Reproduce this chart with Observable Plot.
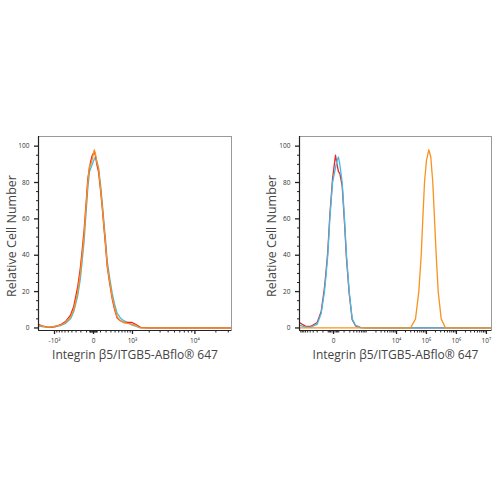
<!DOCTYPE html>
<html>
<head>
<meta charset="utf-8">
<script src="https://cdn.jsdelivr.net/npm/d3@7"></script>
<script src="https://cdn.jsdelivr.net/npm/@observablehq/plot@0.6"></script>
<style>
  html, body { margin: 0; padding: 0; background: #fff; }
  #root { position: relative; width: 500px; height: 500px; background: #fff; font-family: "Open Sans", sans-serif; }
  .panel { position: absolute; top: 120px; }
  .ytitle { position: absolute; top: 236px; transform: translate(-50%, -50%) rotate(-90deg); white-space: nowrap; font-size: 12.5px; color: #444; line-height: 1; }
</style>
</head>
<body>
<div id="root">
  <div class="panel" id="left" style="left:0px"></div>
  <div class="panel" id="right" style="left:250px"></div>
  <div class="ytitle" id="ytl" style="left:12px"></div>
  <div class="ytitle" id="ytr" style="left:272px"></div>
</div>
<script>
// ---------- data ----------
const xTitle = "Integrin β5/ITGB5-ABflo® 647";
const yTitle = "Relative Cell Number";
const seriesNames = ["red", "cyan", "orange"];
const seriesColors = ["#e8282b", "#3dbde8", "#f7931e"];

// Left panel (negative control overlay)
const leftX = [-1941,-1700,-1400,-1190,-950,-754,-584,-438,-353,-262,-210,-175,-140,-122,-100,-80,-55,-35,-15,10,25,45,70,101,130,157,190,221,270,330,390,456,550,658,800,986,1150,1410,2000,5000,15000,33000];
const leftRedY = [2,1.2,0.6,0.4,0.8,1.8,3.5,7,12,23,33,43,54,62,72,82,88,92,95,97,95,90,86,76,66,56,45,34,25,16,10,5.5,4,3,3,3,2,0.3,0,0,0,0];
const leftCyanY = [1,0.8,0.4,0.3,0.8,1.3,2.5,5,9,18,27,37,48,57,67,77,86,88,90,93,94,92,88,79,69,59,48,37,28,19,13,8,5.5,4,3,1.5,1,0,0,0,0,0];
const leftOrangeY = [1.5,1,0.5,0.5,1,1.5,3,6,10,20,30,40,51,60,70,80,89,90,93,98,96,91,88,77,67,57,46,35,26,17,11,6,4,3,2.5,2,1.5,0,0,0,0,0];

// Right panel
const rightX = [-1007,-800,-606,-387,-200,-126,-80,-60,-44,-26,-6,13,25,37,50,76,106,137,187,256,353,555,853,1500,10000,100000,1000000,14700000];
const rightRedY = [3,2,1,0.8,3,9,22,32,42,62,82,95,90,86,85,78,58,38,19,4.5,1.2,0.2,0,0,0,0,0,0];
const rightCyanY = [1.5,1,0.5,0.5,2,8,20,30,40,60,80,88,92,94,90,80,60,40,20,5,1.5,0.3,0,0,0,0,0,0];
const rightOrangeX = [-1007,0,10000,29400,43200,55700,67000,75800,86300,100000,120000,140000,163000,186000,212000,247000,311000,433000,1000000,14700000];
const rightOrangeY = [0,0,0,0,5,20,40,60,80,92,98,94,80,60,40,20,5,0,0,0];

// Axis ticks
const yMajor = [0, 20, 40, 60, 80, 100];
const yMinor = [5,10,15,25,30,35,45,50,55,65,70,75,85,90,95];
const leftMajor = [-1000, 0, 1000, 10000];
const leftMajorLabels = ["-10³", "0", "10³", "10⁴"];
const leftMinor = [-900,-800,-700,-600,-500,-400,-300,-200,-100,-50,-40,-30,-20,-10,10,20,30,40,50,100,200,300,400,500,600,700,800,900,2000,3000,4000,5000,6000,7000,8000,9000,20000,30000];
const rightMajor = [0, 10000, 100000, 1000000, 10000000];
const rightMajorLabels = ["0", "10⁴", "10⁵", "10⁶", "10⁷"];
const rightMinor = [-900,-800,-700,-600,-500,-400,-300,-200,-100,-40,-30,-20,-10,10,20,30,40,100,200,300,400,500,600,700,800,900,2000,3000,4000,5000,6000,7000,8000,9000,20000,30000,40000,50000,60000,70000,80000,90000,200000,300000,400000,500000,600000,700000,800000,900000,2000000,3000000,4000000,5000000,6000000,7000000,8000000,9000000];

// ---------- build ----------
function rows(xs, ys, s) { return xs.map((x, i) => ({x, y: ys[i], s})); }

function panel({series, xDomain, constant, major, majorLabels, minor, marginLeft, marginRight}) {
  const width = 250;
  const yDomain = [-1.4, 105.3];
  const fmt = v => majorLabels[major.indexOf(v)] ?? "";
  const marks = [
    Plot.frame({stroke: "#9a9a9a", strokeWidth: 1}),
    ...series.map(d => Plot.line(d, {x: "x", y: "y", stroke: seriesColors[seriesNames.indexOf(d[0].s)], strokeWidth: 1.3, clip: true})),
    Plot.ruleX([xDomain[0]], {stroke: "#222", strokeWidth: 1.2}),
    Plot.ruleY([yDomain[0]], {stroke: "#222", strokeWidth: 1.2}),
    Plot.axisY({ticks: yMajor, tickSize: 4, tickPadding: 5, fontSize: 6.5, tickFormat: d => String(d), label: null, stroke: "#222", strokeWidth: 1.3, fill: "#333"}),
    Plot.axisY({ticks: yMinor, tickSize: 2, fill: "none", label: null, stroke: "#222"}),
    Plot.axisX({ticks: major, tickSize: 4, tickPadding: 4, fontSize: 6.5, tickFormat: fmt, label: null, stroke: "#222", strokeWidth: 1.3, fill: "#333"}),
    Plot.axisX({ticks: minor, tickSize: 2.5, fill: "none", label: null, stroke: "#222"}),
    Plot.text([xTitle], {frameAnchor: "bottom", textAnchor: "middle", dy: 28, fontSize: 12, fill: "#444"})
  ];
  return Plot.plot({
    width,
    height: 260,
    marginTop: 16,
    marginBottom: 50,
    marginLeft,
    marginRight,
    style: {fontFamily: "Open Sans, sans-serif", background: "transparent", overflow: "visible"},
    x: {type: "symlog", constant, domain: xDomain, label: null},
    y: {domain: yDomain, label: null},
    marks
  });
}

const leftPlot = panel({
  series: [rows(leftX, leftCyanY, "cyan"), rows(leftX, leftRedY, "red"), rows(leftX, leftOrangeY, "orange")],
  xDomain: [-1941, 33300], constant: 400,
  major: leftMajor, majorLabels: leftMajorLabels, minor: leftMinor,
  marginLeft: 38, marginRight: 19
});
const rightPlot = panel({
  series: [rows(rightX, rightRedY, "red"), rows(rightX, rightCyanY, "cyan"), rows(rightOrangeX, rightOrangeY, "orange")],
  xDomain: [-1007, 14770000], constant: 80,
  major: rightMajor, majorLabels: rightMajorLabels, minor: rightMinor,
  marginLeft: 49, marginRight: 9
});
document.getElementById("left").appendChild(leftPlot);
document.getElementById("right").appendChild(rightPlot);
document.getElementById("ytl").textContent = yTitle;
document.getElementById("ytr").textContent = yTitle;
</script>
</body>
</html>
